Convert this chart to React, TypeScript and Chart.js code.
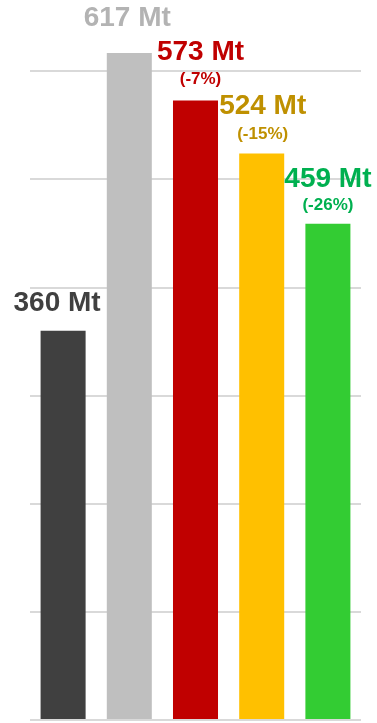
import React, { useEffect, useRef } from "react";
import { Chart, registerables } from "chart.js";

Chart.register(...registerables);

// Emissions per scenario, in megatonnes
const categories = ["Base", "Peak", "Path A", "Path B", "Path C"];
const values = [360, 617, 573, 524, 459];
// Change relative to the peak, in percent (none for the first two)
const changes: (number | null)[] = [null, null, -7, -15, -26];

const barColors = ["#404040", "#bfbfbf", "#c00000", "#ffc000", "#33cc33"];
const labelColors = ["#404040", "#b3b3b3", "#c00000", "#bf9000", "#00b050"];

// Hand placement of the value labels: horizontal nudge and lift above the bar
const labelNudgeX = [-6, -2, 5, 1, 0];
const labelLift = [20, 27, 41, 40, 37];
const changeLift = [0, 0, 17, 15, 14];

const FONT = "'Liberation Sans', Arial, Helvetica, sans-serif";

const valueLabels = {
  id: "valueLabels",
  afterDatasetsDraw(chart: Chart) {
    const ctx = chart.ctx;
    const meta = chart.getDatasetMeta(0);
    ctx.save();
    ctx.textAlign = "center";
    ctx.textBaseline = "alphabetic";
    meta.data.forEach((bar: any, i: number) => {
      const x = bar.x + labelNudgeX[i];
      const top = bar.y;
      const change = changes[i];
      ctx.fillStyle = labelColors[i];
      ctx.font = `bold 28px ${FONT}`;
      ctx.fillText(`${values[i]} Mt`, x, top - labelLift[i]);
      if (change !== null) {
        ctx.font = `bold 17px ${FONT}`;
        ctx.fillText(`(${change}%)`, x, top - changeLift[i]);
      }
    });
    ctx.restore();
  },
};

export default function App() {
  const ref = useRef<HTMLCanvasElement | null>(null);

  useEffect(() => {
    if (!ref.current) return;
    const chart = new Chart(ref.current, {
      type: "bar",
      data: {
        labels: categories,
        datasets: [
          {
            data: values,
            backgroundColor: barColors,
            borderWidth: 0,
            categoryPercentage: 1,
            barPercentage: 0.68,
            clip: false as any,
          },
        ],
      },
      options: {
        responsive: false,
        animation: false,
        layout: { padding: { left: 30, right: 16, top: 0, bottom: 3 } },
        plugins: {
          legend: { display: false },
          tooltip: { enabled: false },
        },
        scales: {
          x: {
            display: false,
          },
          y: {
            display: true,
            min: 0,
            max: 666,
            afterBuildTicks: (scale: any) => {
              scale.ticks = scale.ticks.filter((t: any) => t.value % 100 === 0);
            },
            ticks: { display: false, stepSize: 100 },
            border: { display: false },
            grid: {
              color: "#d9d9d9",
              lineWidth: 2,
              drawTicks: false,
            },
          },
        },
      },
      plugins: [valueLabels],
    });
    return () => chart.destroy();
  }, []);

  return (
    <div style={{ position: "fixed", left: 0, top: 0, width: 377, height: 723, background: "#ffffff" }}>
      <canvas ref={ref} width={377} height={723} style={{ display: "block" }} />
    </div>
  );
}
